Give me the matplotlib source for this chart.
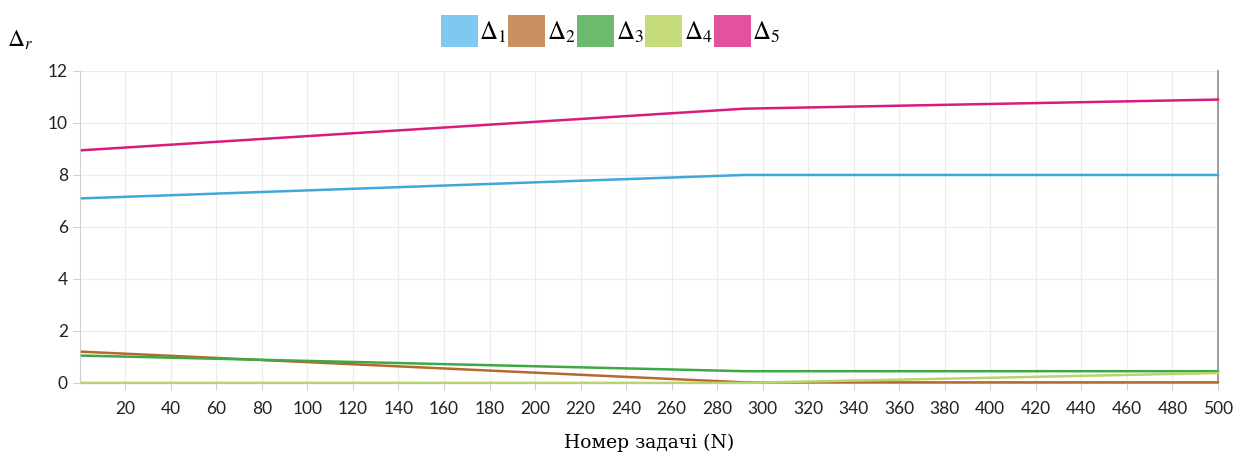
import matplotlib
matplotlib.use("Agg")
import matplotlib.pyplot as plt
from matplotlib.patches import Patch

N = [1, 292, 500]
D1 = [7.1, 8.0, 8.0]
D2 = [1.2, 0.02, 0.02]
D3 = [1.05, 0.45, 0.45]
D4 = [0.0, 0.0, 0.38]
D5 = [8.95, 10.55, 10.9]
SERIES = [D1, D2, D3, D4, D5]
LABELS = [r"$\Delta_1$", r"$\Delta_2$", r"$\Delta_3$", r"$\Delta_4$", r"$\Delta_5$"]
LINE_COLORS = ["#3fa7dc", "#b5692e", "#3ea844", "#b8d46a", "#d81b7f"]
PATCH_COLORS = ["#7dc9f0", "#c8915f", "#6dba6e", "#c6dc7c", "#e3529f"]
XTICKS = list(range(20, 501, 20))
YTICKS = [0, 2, 4, 6, 8, 10, 12]

plt.rcParams.update({"mathtext.fontset": "stix", "font.family": "Lato"})

fig = plt.figure(figsize=(12.46, 4.58), dpi=100)
ax = fig.add_axes([0.064, 0.164, 0.9135, 0.681])

for ys, c in zip(SERIES, LINE_COLORS):
    ax.plot(N, ys, color=c, lw=1.8, clip_on=False, zorder=3)

ax.set_xlim(0, 500)
ax.set_ylim(0, 12)
ax.set_xticks(XTICKS)
ax.set_yticks(YTICKS)
ax.tick_params(axis="both", labelsize=12.5, color="#d0d0d0", length=5,
               labelcolor="#222222")
ax.tick_params(axis="x", pad=8)
ax.grid(True, color="#ececec", lw=0.8)
ax.set_axisbelow(True)
ax.spines["top"].set_visible(False)
ax.spines["left"].set_color("#d0d0d0")
ax.spines["bottom"].set_color("#d0d0d0")
ax.spines["right"].set_color("#8c8c8c")
ax.spines["right"].set_linewidth(1.2)

ax.set_xlabel("Номер задачі (N)", family="DejaVu Serif", fontsize=13.5,
              labelpad=12)
fig.text(0.006, 0.912, r"$\Delta_r$", fontsize=17, va="center")

handles = [Patch(facecolor=c, edgecolor="none") for c in PATCH_COLORS]
fig.legend(handles, LABELS, loc="center", bbox_to_anchor=(0.49, 0.932),
           ncol=5, frameon=False, fontsize=18, handlelength=1.5,
           handleheight=1.6, handletextpad=0.05, columnspacing=0.05)

fig.savefig("out.png", dpi=100)
